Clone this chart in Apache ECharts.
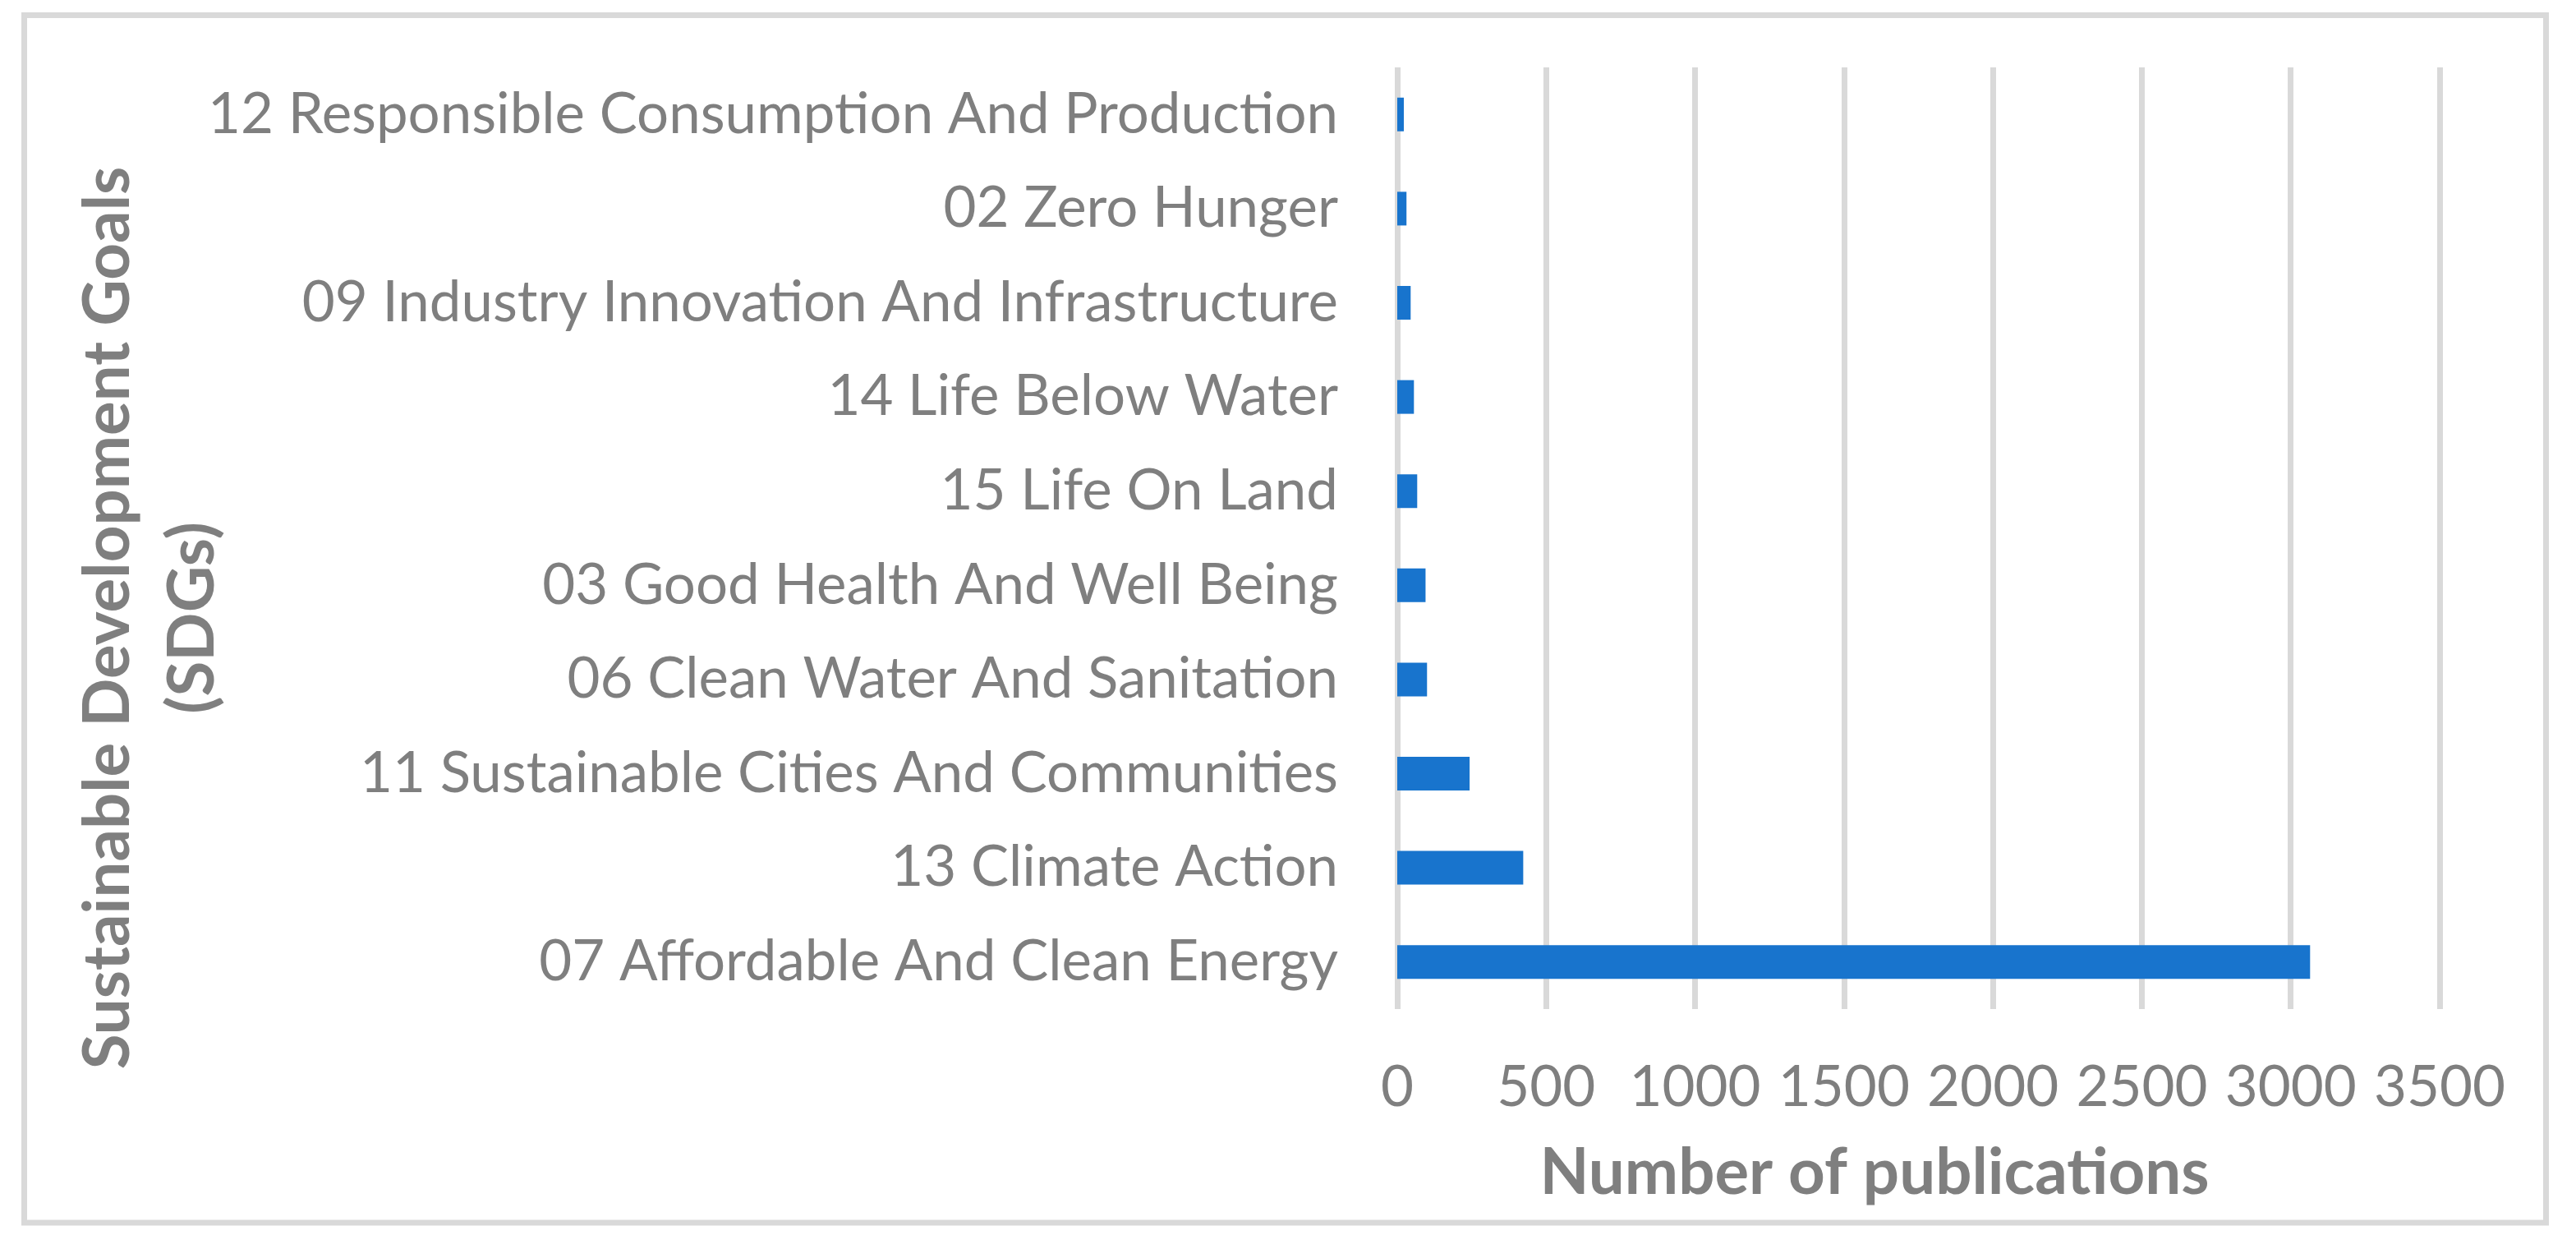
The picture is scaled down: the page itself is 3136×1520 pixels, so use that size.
<!DOCTYPE html>
<html>
<head>
<meta charset="utf-8">
<script src="https://cdn.jsdelivr.net/npm/echarts@6/dist/echarts.min.js"></script>
<style>
html,body{margin:0;padding:0;background:#fff;}
#chart{width:3136px;height:1520px;}
</style>
</head>
<body>
<div id="chart"></div>
<script>
const categories = [
  "12 Responsible Consumption And Production",
  "02 Zero Hunger",
  "09 Industry Innovation And Infrastructure",
  "14 Life Below Water",
  "15 Life On Land",
  "03 Good Health And Well Being",
  "06 Clean Water And Sanitation",
  "11 Sustainable Cities And Communities",
  "13 Climate Action",
  "07 Affordable And Clean Energy"
];
const publications = [22, 31, 45, 56, 67, 95, 100, 243, 423, 3065];
const xTicks = { min: 0, max: 3500, interval: 500 };
const xAxisTitle = "Number of publications";
const yAxisTitle = "Sustainable Development Goals\n(SDGs)";

const textColor = '#7f7f7f';
const gridColor = '#d9d9d9';
const font = 'Lato';

const chart = echarts.init(document.getElementById('chart'), null, {renderer: 'canvas'});
chart.setOption({
  backgroundColor: '#ffffff',
  animation: false,
  grid: { left: 1701, right: 166, top: 82, bottom: 292, containLabel: false },
  xAxis: {
    type: 'value',
    min: xTicks.min, max: xTicks.max, interval: xTicks.interval,
    axisLine: { show: false },
    axisTick: { show: false },
    splitLine: { show: true, lineStyle: { color: gridColor, width: 7 } },
    axisLabel: {
      color: textColor, fontFamily: font, fontSize: 69, margin: 96, verticalAlign: 'middle',
      formatter: function (v) { return String(v); }
    }
  },
  yAxis: {
    type: 'category',
    data: categories,
    inverse: true,
    axisLine: { show: false },
    axisTick: { show: false },
    splitLine: { show: false },
    axisLabel: { color: textColor, fontFamily: font, fontSize: 69, margin: 72 }
  },
  series: [{
    type: 'bar',
    data: publications,
    barWidth: 41,
    itemStyle: { color: '#1874cd' }
  }],
  graphic: [
    {
      type: 'rect',
      shape: { x: 29.5, y: 18.5, width: 3070, height: 1469.5 },
      style: { fill: 'none', stroke: gridColor, lineWidth: 7 },
      silent: true
    },
    {
      type: 'text',
      x: 2282, y: 1428,
      style: {
        text: xAxisTitle, fill: textColor, fontFamily: font, fontWeight: 'bold',
        fontSize: 78, textAlign: 'center', textVerticalAlign: 'middle'
      }
    },
    {
      type: 'text',
      x: 183, y: 752,
      rotation: Math.PI / 2,
      style: {
        text: yAxisTitle, fill: textColor, fontFamily: font, fontWeight: 'bold',
        fontSize: 78, lineHeight: 103, textAlign: 'center', textVerticalAlign: 'middle'
      }
    }
  ]
});
</script>
</body>
</html>
